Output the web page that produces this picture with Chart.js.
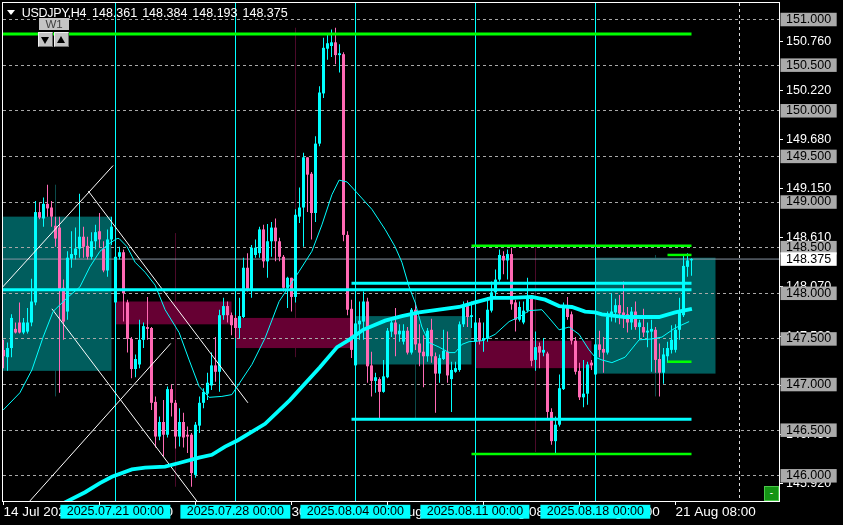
<!DOCTYPE html>
<html><head><meta charset="utf-8">
<script src="https://cdn.jsdelivr.net/npm/chart.js@4.4.1/dist/chart.umd.min.js"></script>
<style>
html,body{margin:0;padding:0;background:#000;}
#wrap{position:relative;width:843px;height:525px;overflow:hidden;background:#000;}
canvas{position:absolute;left:0;top:0;}
.t{position:absolute;font-family:'Liberation Sans',Arial,sans-serif;font-size:12.5px;line-height:12.5px;color:#fff;white-space:pre;}
.tri{position:absolute;left:7px;top:10px;width:0;height:0;border-left:4px solid transparent;border-right:4px solid transparent;border-top:5px solid #fff;}
.w1{position:absolute;left:39px;top:18px;width:30px;height:12px;background:#c4c4c4;color:#404040;font-family:'Liberation Sans',Arial,sans-serif;font-size:11.5px;line-height:12px;text-align:center;}
.btn{position:absolute;top:32px;width:13px;height:13px;background:#c4c4c4;border-top:1px solid #f0f0f0;border-left:1px solid #f0f0f0;border-right:1px solid #707070;border-bottom:1px solid #707070;}
.dn{position:absolute;left:2px;top:4px;width:0;height:0;border-left:4.5px solid transparent;border-right:4.5px solid transparent;border-top:7px solid #000;}
.up{position:absolute;left:2px;top:3px;width:0;height:0;border-left:4.5px solid transparent;border-right:4.5px solid transparent;border-bottom:7px solid #000;}
.gbtn{position:absolute;left:764px;top:486px;width:13px;height:13px;background:#149414;border:1px solid #48c848;color:#fff;font-family:'Liberation Sans',Arial,sans-serif;font-size:10px;line-height:12px;text-align:center;}
</style></head><body>
<div id="wrap">
<canvas id="c" width="843" height="525"></canvas>
<div class="tri"></div>
<div class="t" style="left:21.7px;top:7px;letter-spacing:-0.3px;">USDJPY,H4</div>
<div class="t" style="left:92px;top:7px;word-spacing:1.5px;">148.361 148.384 148.193 148.375</div>
<div class="w1">W1</div>
<div class="btn" style="left:38px;"><div class="dn"></div></div>
<div class="btn" style="left:54px;"><div class="up"></div></div>
<div class="gbtn">-</div>
</div>
<script>
// ---------------- DATA ----------------
const symbolName = 'USDJPY,H4';
// H4 candles, index 0 = 14 Jul 2025 08:00
const opens = [147.38,147.30,147.40,147.61,147.68,147.57,147.58,147.68,147.90,148.89,
148.82,148.98,148.94,148.74,148.72,148.06,147.80,148.38,148.42,148.49,
148.62,148.52,148.40,148.57,148.68,148.49,148.25,148.59,147.90,148.40,
148.45,147.90,147.50,147.17,147.22,147.49,147.63,147.62,146.81,146.43,
146.59,146.45,146.95,146.80,146.43,146.59,146.45,146.45,146.01,146.55,
146.80,146.90,146.99,147.21,147.14,147.76,147.86,147.76,147.73,147.62,
147.74,148.28,148.04,148.42,148.44,148.70,148.35,148.57,148.72,148.57,
148.40,148.06,148.17,147.96,148.84,148.94,149.49,149.31,148.88,149.64,
150.19,150.68,150.71,150.75,150.61,150.62,148.64,147.83,147.21,147.66,
147.69,147.91,147.21,147.04,147.06,146.92,147.08,147.58,147.68,147.55,
147.47,147.59,147.35,147.82,147.45,147.36,147.31,147.60,147.31,147.12,
147.28,147.36,147.06,147.14,147.16,147.66,147.86,147.74,147.47,147.68,
147.48,147.50,147.81,148.01,148.15,148.41,148.36,148.43,147.90,147.71,
147.68,147.81,147.95,147.27,147.42,147.35,147.34,146.70,146.38,146.56,
146.95,147.85,147.77,147.48,147.15,146.86,146.90,147.24,147.11,147.44,
147.39,147.35,147.74,147.79,147.87,147.79,147.77,147.68,147.80,147.63,
147.63,147.57,147.58,147.60,147.28,147.13,147.31,147.38,147.38,147.60,
147.76,148.29,148.361];
const highs = [147.49,147.46,147.77,147.68,147.90,147.73,147.84,148.16,149.01,148.99,
149.05,149.19,149.01,148.84,148.84,148.15,148.46,148.68,148.72,149.09,
148.73,148.62,148.67,148.75,148.88,148.57,148.70,148.84,148.84,148.51,
148.48,147.93,147.52,147.33,147.71,147.68,147.96,147.63,146.87,146.65,
146.83,146.98,147.00,146.83,146.74,146.69,146.54,146.47,146.59,146.87,
146.96,147.13,147.35,147.52,147.82,147.95,147.91,147.79,147.76,147.95,
148.39,148.44,148.53,148.59,148.73,148.75,148.76,148.78,148.82,148.61,
148.42,148.18,148.17,148.92,149.16,149.54,149.49,149.33,149.72,150.27,
150.80,150.84,150.89,150.91,150.73,150.64,148.68,147.93,147.82,147.91,
148.02,147.95,147.36,147.13,147.08,147.27,147.62,147.73,147.84,147.66,
147.66,147.63,147.84,147.90,147.66,147.54,147.62,147.72,147.35,147.33,
147.60,147.58,147.25,147.25,147.69,147.91,147.92,147.91,147.80,147.73,
147.68,147.96,148.13,148.26,148.48,148.46,148.48,148.50,147.93,147.91,
147.91,148.17,147.96,147.58,147.46,147.51,147.36,146.74,146.65,147.11,
147.90,147.96,147.80,147.52,147.24,147.27,147.25,147.27,147.46,147.59,
147.52,147.80,148.00,147.94,147.98,148.13,147.85,147.85,147.91,147.71,
147.83,147.68,147.71,147.63,147.45,147.40,147.47,147.65,147.66,147.95,
148.42,148.44,148.384];
const lows = [147.18,147.15,147.30,147.56,147.56,147.55,147.56,147.64,147.87,148.81,
148.73,148.84,148.73,148.51,146.91,147.49,147.71,148.28,148.37,148.39,
148.39,148.37,148.37,148.48,148.50,148.23,148.18,148.53,147.87,148.37,
147.69,147.35,147.07,147.08,147.18,147.40,147.49,146.72,146.31,146.39,
146.21,146.42,146.65,146.30,146.32,146.31,146.25,145.88,145.98,146.47,
146.74,146.83,146.94,147.03,146.92,147.71,147.68,147.54,147.51,147.51,
147.73,148.02,147.95,148.39,148.39,148.28,148.17,148.40,148.35,148.35,
148.02,147.84,147.80,147.90,148.77,148.51,148.89,148.59,148.78,149.61,
150.14,150.56,150.59,150.51,150.42,148.57,147.76,147.29,147.20,147.49,
147.49,147.02,146.87,146.91,146.63,146.91,147.07,147.52,147.31,147.47,
147.44,147.33,147.33,147.38,147.20,146.97,147.25,147.24,146.69,147.02,
147.27,147.02,146.70,147.13,147.14,147.63,147.63,147.62,147.38,147.44,
147.36,147.47,147.79,147.95,148.13,148.21,148.15,147.82,147.58,147.69,
147.66,147.79,147.20,147.15,147.18,147.31,146.63,146.34,146.25,146.54,
146.94,147.71,147.44,147.11,146.83,146.75,146.78,147.16,147.08,147.30,
147.13,147.33,147.69,147.68,147.66,147.62,147.57,147.60,147.60,147.49,
147.52,147.41,147.14,147.13,146.87,147.01,147.24,147.34,147.35,147.49,
147.74,148.18,148.193];
const closes = [147.31,147.40,147.73,147.57,147.57,147.68,147.68,147.91,148.89,148.83,
148.98,148.93,148.84,148.60,148.04,147.69,148.39,148.43,148.49,148.62,
148.51,148.40,148.57,148.67,148.59,148.25,148.59,148.73,148.40,148.45,
148.00,147.50,147.17,147.28,147.49,147.64,147.61,146.80,146.43,146.59,
146.45,146.95,146.80,146.43,146.59,146.42,146.43,146.03,146.56,146.80,
146.92,147.02,147.21,147.14,147.76,147.86,147.76,147.65,147.62,147.75,
148.28,148.04,148.50,148.50,148.70,148.35,148.57,148.72,148.57,148.40,
148.06,148.17,147.96,148.86,148.94,149.49,149.30,148.88,149.64,150.20,
150.69,150.74,150.75,150.61,150.63,148.64,147.82,147.38,147.67,147.70,
147.91,147.20,147.04,147.08,146.92,147.09,147.59,147.68,147.55,147.59,
147.59,147.35,147.82,147.44,147.35,147.31,147.59,147.31,147.12,147.29,
147.37,147.10,147.16,147.18,147.66,147.85,147.74,147.76,147.68,147.48,
147.51,147.82,148.01,148.15,148.42,148.36,148.43,147.88,147.71,147.85,
147.81,147.95,147.26,147.41,147.35,147.38,146.70,146.38,146.56,146.96,
147.85,147.74,147.48,147.14,146.86,146.90,147.22,147.21,147.44,147.38,
147.35,147.74,147.80,147.87,147.78,147.76,147.68,147.80,147.63,147.68,
147.57,147.59,147.61,147.27,147.13,147.33,147.40,147.49,147.60,147.79,
148.30,148.36,148.375];

// fast and slow moving averages [candle index, price]
const fastMA = [[-0.1,146.72],[4.1,146.91],[7.1,147.16],[9.9,147.52],[12.4,147.80],[15.9,147.95],[19.1,148.07],[21.6,148.29],[24.1,148.46],[26.6,148.55],[28.4,148.60],[28.9,148.60],[30.9,148.51],[32.9,148.34],[35.4,148.23],[37.9,148.09],[40.4,147.82],[43.9,147.57],[46.4,147.27],[48.9,146.98],[51.4,146.86],[54.6,146.87],[57.1,146.89],[62.1,147.22],[65.4,147.51],[68.9,147.91],[73.9,148.24],[77.1,148.46],[79.6,148.75],[82.1,149.08],[83.9,149.24],[85.9,149.22],[88.4,149.10],[92.1,148.92],[95.4,148.70],[97.9,148.51],[99.6,148.34],[101.4,148.07],[102.9,147.90],[104.6,147.63],[106.4,147.46],[108.9,147.41],[111.4,147.35],[112.9,147.35],[114.6,147.44],[116.4,147.47],[119.6,147.48],[122.9,147.55],[126.4,147.69],[128.9,147.74],[131.4,147.81],[134.6,147.82],[136.4,147.73],[138.9,147.60],[141.4,147.63],[143.9,147.55],[146.4,147.38],[147.9,147.30],[149.6,147.27],[152.1,147.24],[155.4,147.30],[158.9,147.49],[162.1,147.50],[164.6,147.52],[167.9,147.62],[171.4,147.69]];
const slowMA = [[14.1,145.68],[20.4,145.82],[24.1,145.92],[27.1,145.99],[32.1,146.07],[35.4,146.09],[40.4,146.10],[43.9,146.14],[48.9,146.20],[52.1,146.23],[55.4,146.32],[58.6,146.39],[65.4,146.57],[71.6,146.83],[79.1,147.19],[83.4,147.41],[86.4,147.49],[89.9,147.60],[95.4,147.70],[99.6,147.75],[103.9,147.79],[108.9,147.82],[113.9,147.85],[117.9,147.90],[122.1,147.95],[127.1,147.95],[132.1,147.96],[135.4,147.93],[138.9,147.86],[142.1,147.85],[145.4,147.80],[147.9,147.79],[149.6,147.77],[155.4,147.74],[163.9,147.74],[167.9,147.79],[172.1,147.83]];

// weekly (W1) overlay: start/end candle index, centre, OHLC
const weekFromIdx = [-2, 28, 58, 88, 118, 148];
const weekToIdx   = [27, 57, 87, 117, 147, 178];
const weekMidIdx  = [13, 43, 73, 103, 133, 163];
const weekOpen  = [147.15, 147.91, 147.73, 147.22, 147.48, 147.12];
const weekClose = [148.84, 147.66, 147.40, 147.75, 147.18, 148.39];
const weekHigh  = [149.19, 148.66, 150.91, 148.02, 148.51, 148.42];
const weekLow   = [146.87, 145.88, 147.30, 146.63, 146.26, 146.87];

// horizontal levels [price, fromIdx, toIdx]
const greenLevels = [[150.84,-1,172],[148.52,117,172],[146.24,117,172],[148.42,166,172],[147.25,166,172]];
const cyanLevels  = [[148.04,-1,172],[148.11,87,172],[146.62,87,172]];
const currentPrice = 148.375;

// white trend lines [[idx, price],[idx, price]]
const trendLines = [
  [[-0.4,148.06],[27.4,149.40]],
  [[21.2,149.12],[61.1,146.80]],
  [[12.1,147.83],[48.4,145.72]],
  [[6.5,145.72],[41.8,147.45]]
];

// week separators (Monday 00:00)
const separatorIdx = [28, 58, 88, 118, 148];
const separatorLabels = ['2025.07.21 00:00','2025.07.28 00:00','2025.08.04 00:00','2025.08.11 00:00','2025.08.18 00:00'];

// time axis
const timeTickIdx = [0, 24, 48, 72, 96, 120, 144, 168];
const timeTickLabels = ['14 Jul 2025 08:00','18 Jul 08:00','24 Jul 08:00','30 Jul 08:00','5 Aug 08:00','11 Aug 08:00','15 Aug 08:00','21 Aug 08:00'];
const timeGridIdx = [184];

// price axis
const priceTicks = [150.76,150.22,149.68,149.15,148.61,148.07,147.53,146.99,146.45,145.92];
const roundLevels = [151.0,150.5,150.0,149.5,149.0,148.5,148.0,147.5,147.0,146.5,146.0];

// ---------------- CHART ----------------
const Y_MIN = 145.724, Y_MAX = 151.181;
const X_MIN = -0.125, X_MAX = 193.875;
const BULL = '#00ffff', BEAR = '#ff69b4';
const FONT = "'Liberation Sans', Arial, sans-serif";
const LABEL_SHIFT = 12.2;
Chart.defaults.font.family = FONT;

const isBull = i => closes[i] >= opens[i];

const datasets = [];
const line = (pts, color, width, extra) => Object.assign({
  type: 'line', data: pts.map(p => ({x: p[0], y: p[1]})), borderColor: color,
  borderWidth: width, pointRadius: 0, fill: false, tension: 0
}, extra || {});

datasets.push(line(fastMA, '#00ffff', 1));
datasets.push(line(slowMA, '#00ffff', 3.8));
greenLevels.forEach(l => datasets.push(line([[l[1], l[0]], [l[2], l[0]]], '#00ff00', l[1] < 0 ? 3 : 2.5)));
cyanLevels.forEach(l => datasets.push(line([[l[1], l[0]], [l[2], l[0]]], '#00ffff', 3)));
trendLines.forEach(t => datasets.push(line(t, '#ffffff', 1)));
datasets.push({
  type: 'bar', grouped: false, barThickness: 3, minBarLength: 1, inflateAmount: 0, borderWidth: 0,
  data: opens.map((o, i) => ({x: i, y: [o, closes[i]]})),
  backgroundColor: c => isBull(c.dataIndex) ? BULL : BEAR
});
datasets.push({
  type: 'bar', grouped: false, barThickness: 1, inflateAmount: 0, borderWidth: 0,
  data: highs.map((h, i) => ({x: i, y: [lows[i], h]})),
  backgroundColor: c => isBull(c.dataIndex) ? BULL : BEAR
});
separatorIdx.forEach(s => datasets.push(line([[s, Y_MAX], [s, Y_MIN]], '#00ffff', 1)));
datasets.push(line([[X_MIN, currentPrice], [X_MAX, currentPrice]], '#8896a3', 1));

// x ticks: native time labels, then separator labels, then grid
const xTickVals = [...timeTickIdx, ...separatorIdx.map(s => s - LABEL_SHIFT), ...timeGridIdx];
const xTickLabels = [...timeTickLabels, ...separatorLabels, ...timeGridIdx.map(() => '')];
const xKind = [...timeTickIdx.map(() => 'n'), ...separatorIdx.map(() => 's'), ...timeGridIdx.map(() => 'g')];

// y ticks: native, round levels, current price
const yTickVals = [...priceTicks, ...roundLevels, currentPrice];
const yTickLabels = yTickVals.map(v => v.toFixed(3));
const yKind = [...priceTicks.map(() => 'n'), ...roundLevels.map(() => 'r'), 'c'];

const weeklyPlugin = {
  id: 'weekly',
  beforeDraw(chart) {
    const {ctx, chartArea: a, scales: {x, y}} = chart;
    ctx.save();
    ctx.beginPath();
    ctx.rect(a.left, a.top, a.right - a.left, a.bottom - a.top);
    ctx.clip();
    for (let k = 0; k < weekOpen.length; k++) {
      const bull = weekClose[k] >= weekOpen[k];
      const xc = x.getPixelForValue(weekMidIdx[k]);
      ctx.strokeStyle = bull ? '#0b4a4a' : '#4c0a2a';
      ctx.lineWidth = 1;
      ctx.beginPath();
      ctx.moveTo(xc, y.getPixelForValue(weekHigh[k]));
      ctx.lineTo(xc, y.getPixelForValue(weekLow[k]));
      ctx.stroke();
      const x0 = x.getPixelForValue(weekFromIdx[k]);
      const x1 = x.getPixelForValue(weekToIdx[k]);
      const yt = y.getPixelForValue(Math.max(weekOpen[k], weekClose[k]));
      const yb = y.getPixelForValue(Math.min(weekOpen[k], weekClose[k]));
      ctx.fillStyle = bull ? '#005d5d' : '#660033';
      ctx.fillRect(x0, yt, x1 - x0, yb - yt);
    }
    ctx.restore();
  },
  afterDraw(chart) {
    const {ctx, chartArea: a} = chart;
    ctx.save();
    ctx.strokeStyle = '#ffffff';
    ctx.lineWidth = 1;
    ctx.strokeRect(a.left - 0.5, a.top - 0.5, a.right - a.left + 1, a.bottom - a.top + 1);
    ctx.restore();
  }
};

const zeroPad = s => { s.paddingLeft = 0; s.paddingRight = 0; s.paddingTop = 0; s.paddingBottom = 0; };
const CLEAR = 'rgba(0,0,0,0)';

new Chart(document.getElementById('c'), {
  type: 'bar',
  data: { datasets },
  options: {
    responsive: false, animation: false, devicePixelRatio: 1, events: [],
    layout: { padding: { left: 3, top: 3, right: 0, bottom: 0 } },
    plugins: { legend: { display: false }, tooltip: { enabled: false }, title: { display: false } },
    scales: {
      x: {
        type: 'linear', position: 'bottom', min: X_MIN, max: X_MAX, offset: false,
        grid: {
          offset: false, drawOnChartArea: true, tickLength: 4, lineWidth: 1,
          color: c => xKind[c.index] === 'g' ? '#d8d8d8' : CLEAR,
          tickColor: c => xKind[c.index] === 'n' ? '#ffffff' : CLEAR
        },
        border: { display: false, dash: [3, 3] },
        ticks: {
          autoSkip: false, maxRotation: 0, minRotation: 0, align: 'start', padding: 0.5,
          font: c => ({ family: FONT, size: xKind[c.index] === 's' ? 12.5 : 13.5, lineHeight: 1 }),
          color: c => xKind[c.index] === 's' ? '#000000' : '#ffffff',
          showLabelBackdrop: c => xKind[c.index] === 's',
          backdropColor: '#00ffff',
          backdropPadding: { left: 6.3, right: 6.3, top: 0.7, bottom: 0.7 },
          callback: (v, i) => xTickLabels[i]
        },
        afterBuildTicks: s => { s.ticks = xTickVals.map(v => ({ value: v })); },
        afterFit: s => { s.height = 24; zeroPad(s); }
      },
      y: {
        type: 'linear', position: 'right', min: Y_MIN, max: Y_MAX,
        grid: {
          drawOnChartArea: true, tickLength: 4, lineWidth: 1,
          color: c => yKind[c.index] === 'r' ? '#a8a8a8' : CLEAR,
          tickColor: c => yKind[c.index] === 'n' ? '#ffffff' : CLEAR
        },
        border: { display: false, dash: [3, 3] },
        ticks: {
          autoSkip: false, padding: 3, crossAlign: 'near',
          font: { family: FONT, size: 12.5, lineHeight: 1 },
          color: c => yKind[c.index] === 'n' ? '#ffffff' : '#000000',
          showLabelBackdrop: c => yKind[c.index] !== 'n',
          backdropColor: c => yKind[c.index] === 'c' ? '#ffffff' : '#aaaaaa',
          backdropPadding: { left: 5.5, right: 5.5, top: 0.5, bottom: 0.5 },
          callback: (v, i) => yTickLabels[i]
        },
        afterBuildTicks: s => { s.ticks = yTickVals.map(v => ({ value: v })); },
        afterFit: s => { s.width = 64; zeroPad(s); }
      }
    }
  },
  plugins: [weeklyPlugin]
});
</script>
</body></html>
